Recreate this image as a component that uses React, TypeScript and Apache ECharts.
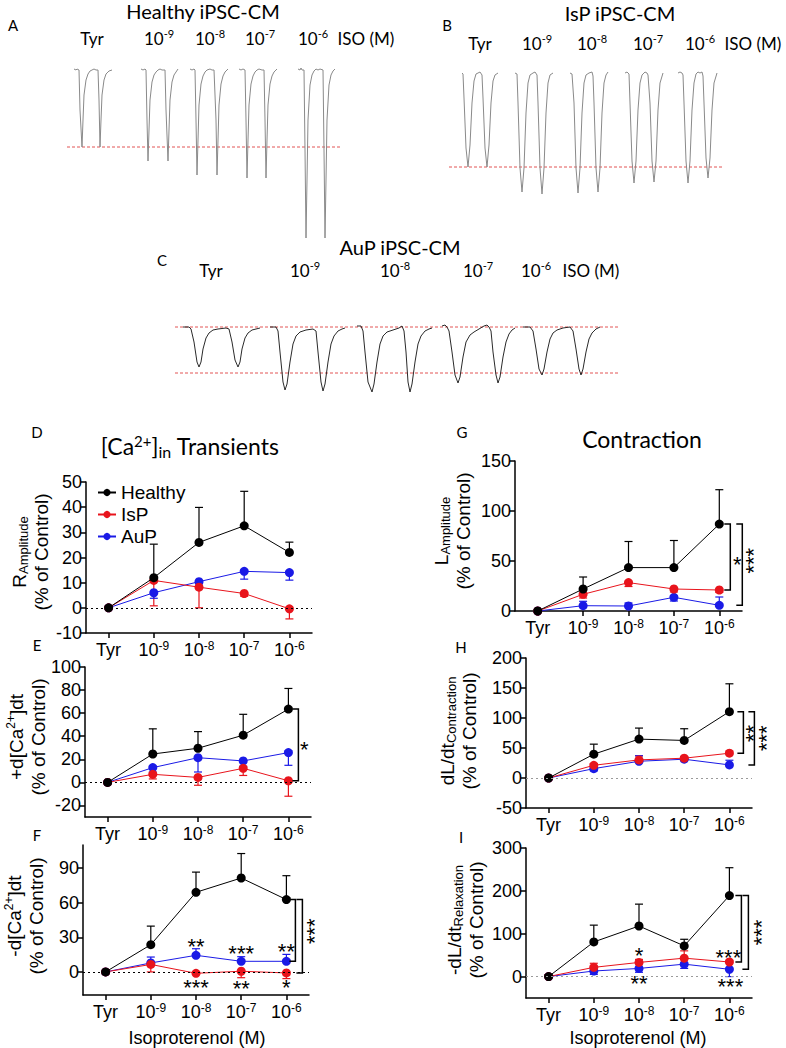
import React, { useEffect, useRef } from "react";
import * as echarts from "echarts";

// ---------------- DATA ----------------
const categories = ["Tyr", "10-9", "10-8", "10-7", "10-6"];
const groupNames = ["Healthy", "IsP", "AuP"];

// D: R Amplitude (% of control)
const ampHealthy = [0, 12, 26, 32.6, 22];
const ampHealthyErr = [null, 25.3, 39.9, 46.3, 26.1];
const ampIsP = [0, 10.9, 8.2, 5.7, -0.4];
const ampIsPErr = [null, 0.8, 0, 4.6, -4.4];
const ampAuP = [0, 6, 10.4, 14.5, 14];
const ampAuPErr = [null, 3.8, 9.6, 11.4, 11];

// E: +d[Ca2+]dt
const upHealthy = [0, 24.6, 29.6, 40.9, 63.5];
const upHealthyErr = [null, 46.4, 44, 59, 81.4];
const upIsP = [0, 7, 4.3, 12.2, 1.4];
const upIsPErr = [null, 3, -2.5, 6, -12];
const upAuP = [0, 12.8, 21.4, 18.6, 25.8];
const upAuPErr = [null, 9, 9, 14, 14.8];

// F: -d[Ca2+]dt
const downHealthy = [0, 23.6, 69, 81.4, 62.7];
const downHealthyErr = [null, 39.7, 86.5, 102.6, 83.4];
const downIsP = [0, 6.5, -1.2, 0.6, -0.9];
const downIsPErr = [null, 0, null, -5, -5.8];
const downAuP = [0, 7.8, 14.4, 9.2, 9.2];
const downAuPErr = [null, 12.9, 20.1, 13.2, 15.2];

// G: L Amplitude
const lampHealthy = [0, 22, 43.4, 43.4, 86.9];
const lampHealthyErr = [null, 34, 69.5, 70.5, 121.3];
const lampIsP = [0, 16.7, 28.4, 22, 21];
const lampIsPErr = [null, 13, 24.5, 19, 18.5];
const lampAuP = [0, 5.3, 5, 13.7, 5.7];
const lampAuPErr = [null, 9.7, 8, 10, 14];

// H: dL/dt Contraction
const contrHealthy = [0, 39.7, 64.8, 62.6, 110.6];
const contrHealthyErr = [null, 56.4, 83.2, 82.1, 157];
const contrIsP = [0, 21.2, 30.2, 33, 41.3];
const contrIsPErr = [null, 24, 37, 36, 45];
const contrAuP = [0, 15.6, 27.9, 31.3, 21.8];
const contrAuPErr = [null, 12, 37, 35, 29.6];

// I: -dL/dt Relaxation
const relaxHealthy = [0, 80.8, 118, 71.6, 189];
const relaxHealthyErr = [null, 120, 169, 87, 254];
const relaxIsP = [0, 21.5, 33, 43, 34];
const relaxIsPErr = [null, 31, 40, 60, 38];
const relaxAuP = [0, 13, 19, 29, 17];
const relaxAuPErr = [null, 5, 10, 19, 0];

// y tick labels
const ticksD = [-10, 0, 10, 20, 30, 40, 50];
const ticksE = [-20, 0, 20, 40, 60, 80, 100];
const ticksF = [0, 30, 60, 90];
const ticksG = [0, 50, 100, 150];
const ticksH = [-50, 0, 50, 100, 150, 200];
const ticksI = [0, 100, 200, 300];

// Example traces [time, signal]
const healthyTyr = [[74,1],[76,0],[77,1],[79,0],[80,-40],[82,-77],[83,-50],[84,-25],[86,-10],[88,-4],[90,-1],[92,0],[94,1],[96,0],[98,0],[99,-30],[100,-77],[101,-50],[102,-25],[104,-10],[106,-4],[109,-1],[112,0]];
const healthy9 = [[141,1],[143,0],[145,1],[146,0],[147,-50],[148,-91],[149,-60],[150,-30],[152,-12],[154,-5],[156,-2],[158,0],[160,1],[162,0],[165,0],[166,-40],[168,-91],[169,-60],[170,-30],[172,-12],[174,-5],[176,-2],[178,1]];
const healthy8 = [[190,1],[192,0],[194,1],[195,0],[196,-50],[197,-105],[198,-70],[199,-35],[201,-14],[203,-6],[205,-2],[207,0],[210,1],[212,0],[214,0],[216,-50],[217,-105],[218,-70],[219,-35],[221,-14],[223,-6],[225,-2],[228,1]];
const healthy7 = [[239,1],[241,0],[243,1],[245,0],[246,-50],[247,-108],[248,-70],[249,-35],[251,-14],[253,-6],[255,-2],[257,0],[259,1],[262,0],[264,0],[265,-50],[266,-108],[267,-70],[268,-35],[270,-14],[272,-6],[274,-2],[277,1]];
const healthy6 = [[298,1],[300,0],[301,2],[302,0],[304,0],[305,-80],[306,-168],[307,-110],[308,-50],[310,-15],[312,-5],[314,-1],[316,1],[318,0],[320,1],[323,0],[324,-80],[325,-168],[326,-110],[327,-50],[329,-15],[331,-5],[333,-1],[335,1]];

const ispTyr = [[462,0],[463,-1],[464,-25],[466,-75],[468,-94],[470,-72],[472,-30],[474,-8],[476,-1],[478,0],[480,1],[482,-2],[483,-25],[485,-75],[487,-94],[489,-72],[491,-30],[493,-8],[495,-2],[498,0]];
const isp9 = [[515,0],[517,-1],[518,-30],[520,-95],[522,-119],[524,-95],[526,-40],[528,-10],[530,-2],[533,0],[535,1],[537,-2],[538,-30],[540,-95],[542,-121],[544,-95],[546,-40],[548,-10],[550,-2],[553,0]];
const isp8 = [[570,0],[572,-1],[574,-30],[576,-95],[578,-120],[580,-95],[582,-40],[584,-10],[586,-2],[589,0],[592,1],[593,-3],[594,-30],[596,-95],[598,-119],[600,-95],[602,-40],[604,-10],[606,-2],[608,1]];
const isp7 = [[625,0],[627,1],[629,-1],[630,-30],[632,-88],[634,-110],[636,-88],[638,-37],[640,-10],[642,-2],[645,1],[647,0],[648,-2],[650,-30],[652,-88],[654,-109],[656,-88],[658,-37],[660,-10],[663,0]];
const isp6 = [[678,0],[680,1],[682,0],[683,-2],[684,-30],[686,-88],[688,-110],[690,-88],[692,-37],[694,-10],[696,-1],[698,1],[700,0],[702,1],[703,-3],[704,-30],[706,-85],[708,-105],[710,-85],[712,-37],[714,-10],[717,0]];

const aupTyr = [[183,0],[189,0],[191,-2],[194,-15],[197,-35],[199,-40],[201,-35],[203,-22],[206,-11],[209,-6],[213,-3],[218,-2],[226,-1],[229,-2],[232,-15],[235,-33],[238,-40],[240,-35],[242,-22],[245,-11],[248,-6],[252,-3],[256,-2],[260,-1]];
const aup9 = [[270,0],[276,0],[278,-4],[280,-25],[283,-55],[285,-63],[287,-57],[290,-35],[293,-17],[296,-9],[300,-5],[306,-3],[313,-2],[316,-4],[318,-25],[321,-55],[323,-64],[325,-57],[328,-35],[331,-17],[334,-9],[338,-4],[342,-2],[345,-1]];
const aup8 = [[357,1],[361,1],[363,-4],[365,-25],[368,-55],[372,-65],[374,-57],[377,-35],[380,-17],[383,-9],[387,-5],[393,-3],[399,-1],[402,1],[404,-4],[406,-25],[408,-55],[410,-65],[412,-57],[415,-35],[418,-17],[421,-9],[425,-4],[429,-2],[432,-1]];
const aup7 = [[442,1],[445,2],[447,0],[449,-4],[452,-25],[455,-48],[458,-56],[460,-50],[463,-30],[466,-15],[470,-8],[474,-5],[479,-2],[484,1],[487,2],[489,0],[491,-4],[493,-25],[496,-48],[498,-56],[500,-50],[503,-30],[506,-15],[509,-7],[512,-3],[515,-1]];
const aup6 = [[523,0],[530,0],[533,-4],[536,-22],[539,-42],[542,-48],[544,-42],[547,-25],[550,-12],[553,-6],[557,-3],[563,-1],[570,0],[573,-4],[576,-22],[579,-42],[581,-48],[583,-42],[586,-25],[589,-12],[592,-6],[596,-2],[600,0]];

// reference levels of traces
const healthyRef = [-77];
const ispRef = [-94];
const aupRef = [0, -46];

// ---------------- STYLE / LAYOUT ----------------
const FONT = "'Liberation Sans', Arial, sans-serif";
const CAL = "Lato, 'Open Sans', sans-serif";
const COLORS = ["#000000", "#e8141c", "#1a1ae6"];
const REF_RED = "#e25555";

const traceSpecs = [
  { left: 60, top: 60, width: 285, height: 185, xMin: 60, xMax: 345, yMin: -175, yMax: 10, color: "#8a8a8a", groups: [healthyTyr, healthy9, healthy8, healthy7, healthy6], refs: healthyRef, refX: [67, 340] },
  { left: 445, top: 68, width: 280, height: 135, xMin: 445, xMax: 725, yMin: -130, yMax: 5, color: "#8a8a8a", groups: [ispTyr, isp9, isp8, isp7, isp6], refs: ispRef, refX: [449, 722] },
  { left: 170, top: 322, width: 455, height: 75, xMin: 170, xMax: 625, yMin: -70, yMax: 5, color: "#2a2a2a", groups: [aupTyr, aup9, aup8, aup7, aup6], refs: aupRef, refX: [175, 618] },
];

const panels: any[] = [
  { left: 86, top: 482, width: 226, height: 151, min: -10, max: 50, ticks: ticksD, zero: "#000",
    values: [ampHealthy, ampIsP, ampAuP], errs: [ampHealthyErr, ampIsPErr, ampAuPErr], brackets: [], notes: [] },
  { left: 85, top: 667, width: 226, height: 150, min: -30, max: 100, ticks: ticksE, zero: "#000",
    values: [upHealthy, upIsP, upAuP], errs: [upHealthyErr, upIsPErr, upAuPErr],
    brackets: [{ other: 1, dx: 10, label: "*", lx: 16, ly: 0, rot: false }], notes: [] },
  { left: 83, top: 845, width: 226, height: 150, min: -20, max: 110, ticks: ticksF, zero: "#000",
    values: [downHealthy, downIsP, downAuP], errs: [downHealthyErr, downIsPErr, downAuPErr],
    brackets: [{ other: 2, dx: 9 }, { other: 1, dx: 16, label: "***", lx: 23, ly: -5, rot: true }],
    notes: [
      { s: 2, c: 2, dx: 0, dy: -14, text: "**" }, { s: 2, c: 3, dx: 0, dy: -13, text: "***" }, { s: 2, c: 4, dx: 0, dy: -15, text: "**" },
      { s: 1, c: 2, dx: 0, dy: 9, text: "***" }, { s: 1, c: 3, dx: 0, dy: 12, text: "**" }, { s: 1, c: 4, dx: 0, dy: 10, text: "*" },
    ] },
  { left: 515, top: 461, width: 227, height: 150, min: 0, max: 150, ticks: ticksG, zero: null,
    values: [lampHealthy, lampIsP, lampAuP], errs: [lampHealthyErr, lampIsPErr, lampAuPErr],
    brackets: [{ other: 1, dx: 11, label: "*", lx: 18, ly: 2, rot: false }, { other: 2, dx: 23, label: "***", lx: 29, ly: -4, rot: true }], notes: [] },
  { left: 526, top: 658, width: 226, height: 150, min: -50, max: 200, ticks: ticksH, zero: "#9a9a9a",
    values: [contrHealthy, contrIsP, contrAuP], errs: [contrHealthyErr, contrIsPErr, contrAuPErr],
    brackets: [{ other: 1, dx: 14, label: "**", lx: 19, ly: 1, rot: true }, { other: 2, dx: 25, label: "***", lx: 32, ly: 0, rot: true }], notes: [] },
  { left: 526, top: 848, width: 226, height: 150, min: -50, max: 300, ticks: ticksI, zero: "#9a9a9a",
    values: [relaxHealthy, relaxIsP, relaxAuP], errs: [relaxHealthyErr, relaxIsPErr, relaxAuPErr],
    brackets: [{ other: 1, dx: 12 }, { other: 2, dx: 19, label: "***", lx: 27, ly: 0, rot: true }],
    notes: [
      { s: 1, c: 2, dx: 0, dy: -12, text: "*" }, { s: 2, c: 2, dx: 0, dy: 10, text: "**" },
      { s: 1, c: 4, dx: -1, dy: -10, text: "***" }, { s: 2, c: 4, dx: 1, dy: 12, text: "***" },
    ] },
];

const STAR_SIZE = 22;
const STAR_SHIFT = 5;

function starText(x: number, y: number, text: string, rot: boolean) {
  return {
    type: "text",
    x: rot ? x + STAR_SHIFT : x,
    y: rot ? y : y + STAR_SHIFT,
    rotation: rot ? Math.PI / 2 : 0,
    style: { text, fontSize: STAR_SIZE, lineHeight: 12, fontFamily: FONT, fill: "#000", align: "center", verticalAlign: "middle" },
  };
}

function errRender(color: string) {
  return (params: any, api: any) => {
    const c = api.value(0);
    const p = api.coord([c, api.value(1)]);
    const q = api.coord([c, api.value(2)]);
    return {
      type: "group",
      children: [
        { type: "line", shape: { x1: p[0], y1: p[1], x2: q[0], y2: q[1] }, style: { stroke: color, lineWidth: 1.2 } },
        { type: "line", shape: { x1: q[0] - 4, y1: q[1], x2: q[0] + 4, y2: q[1] }, style: { stroke: color, lineWidth: 1.2 } },
      ],
    };
  };
}

function catFormatter(v: string) {
  return v.startsWith("10") ? `{n|10}{s|${v.slice(2)}}` : `{n|${v}}`;
}

const catRich = {
  n: { fontSize: 18, fontFamily: FONT, color: "#000", lineHeight: 20 },
  s: { fontSize: 12, fontFamily: FONT, color: "#000", lineHeight: 10, verticalAlign: "top" },
};

function buildOption() {
  const grid: any[] = [];
  const xAxis: any[] = [];
  const yAxis: any[] = [];
  const series: any[] = [];

  const chartSeriesFirst: any[] = [];
  const otherSeries: any[] = [];

  traceSpecs.forEach((t, gi) => {
    grid.push({ left: t.left, top: t.top, width: t.width, height: t.height });
    xAxis.push({ type: "value", gridIndex: gi, min: t.xMin, max: t.xMax, show: false });
    yAxis.push({ type: "value", gridIndex: gi, min: t.yMin, max: t.yMax, show: false });
    t.refs.forEach((r) => {
      otherSeries.push({
        type: "line", xAxisIndex: gi, yAxisIndex: gi, data: [[t.refX[0], r], [t.refX[1], r]],
        symbol: "none", silent: true, z: 1,
        lineStyle: { color: REF_RED, type: [3, 2], width: 1 },
      });
    });
    t.groups.forEach((g) => {
      otherSeries.push({
        type: "line", xAxisIndex: gi, yAxisIndex: gi, data: g, symbol: "none", silent: true,
        lineStyle: { color: t.color, width: 1 }, z: 2,
      });
    });
  });

  panels.forEach((p, k) => {
    const gi = 3 + k;
    grid.push({ left: p.left, top: p.top, width: p.width, height: p.height });
    xAxis.push({
      type: "category", gridIndex: gi, data: categories, boundaryGap: true,
      axisLine: { show: true, onZero: false, lineStyle: { color: "#000", width: 1.5 } },
      axisTick: { show: true, alignWithLabel: true, interval: 0, length: 5, lineStyle: { color: "#000", width: 1.5 } },
      axisLabel: { margin: 7, interval: 0, hideOverlap: false, formatter: catFormatter, rich: catRich, color: "#000" },
      splitLine: { show: false },
    });
    yAxis.push({
      type: "value", gridIndex: gi, min: p.min, max: p.max,
      axisLine: { show: true, lineStyle: { color: "#000", width: 1.5 } },
      axisTick: { show: true, length: 5, lineStyle: { color: "#000", width: 1.5 }, customValues: p.ticks },
      axisLabel: { margin: 4, fontSize: 18, fontFamily: FONT, color: "#000", customValues: p.ticks },
      splitLine: { show: false },
    });

    p.values.forEach((vals: number[], s: number) => {
      const errs = p.errs[s];
      const data: any[] = [];
      vals.forEach((v, i) => { if (errs[i] !== null && errs[i] !== undefined) data.push([i, v, errs[i]]); });
      otherSeries.push({
        type: "custom", xAxisIndex: gi, yAxisIndex: gi, data, renderItem: errRender(COLORS[s]), silent: true, z: 2,
        encode: { x: 0, y: 1 },
      });
    });

    p.values.forEach((vals: number[], s: number) => {
      const ser: any = {
        type: "line", name: groupNames[s], xAxisIndex: gi, yAxisIndex: gi, data: vals,
        symbol: "circle", symbolSize: 9, showSymbol: true,
        lineStyle: { color: COLORS[s], width: 1 }, itemStyle: { color: COLORS[s] }, z: 4 - s * 0.1,
      };
      if (s === 0 && p.zero) {
        ser.markLine = {
          silent: true, symbol: "none", label: { show: false },
          lineStyle: { color: p.zero, type: [2, 3], width: 1.2 },
          data: [{ yAxis: 0 }],
        };
      }
      if (k === 0) chartSeriesFirst.push(ser); else otherSeries.push(ser);
    });

    if (p.brackets.length) {
      const bData = p.brackets.map((b: any, bi: number) => [4, p.values[0][4], p.values[b.other][4], bi]);
      otherSeries.push({
        type: "custom", xAxisIndex: gi, yAxisIndex: gi, data: bData, silent: true, z: 5, encode: { x: 0, y: 1 },
        renderItem: (params: any, api: any) => {
          const b = p.brackets[params.dataIndex];
          const a = api.coord([api.value(0), api.value(1)]);
          const c = api.coord([api.value(0), api.value(2)]);
          const x = a[0] + b.dx;
          const children: any[] = [
            { type: "polyline", shape: { points: [[x - 6, a[1]], [x, a[1]], [x, c[1]], [x - 6, c[1]]] }, style: { stroke: "#000", lineWidth: 1.5, fill: null } },
          ];
          if (b.label) children.push(starText(a[0] + b.lx, (a[1] + c[1]) / 2 + b.ly, b.label, b.rot));
          return { type: "group", children };
        },
      });
    }

    if (p.notes.length) {
      const nData = p.notes.map((n: any, ni: number) => [n.c, p.values[n.s][n.c], ni]);
      otherSeries.push({
        type: "custom", xAxisIndex: gi, yAxisIndex: gi, data: nData, silent: true, z: 5, encode: { x: 0, y: 1 },
        renderItem: (params: any, api: any) => {
          const n = p.notes[params.dataIndex];
          const a = api.coord([api.value(0), api.value(1)]);
          return starText(a[0] + n.dx, a[1] + n.dy, n.text, false);
        },
      });
    }
  });

  series.push(...chartSeriesFirst, ...otherSeries);

  const supRich = (size: number, fam: string) => ({
    n: { fontSize: size, fontFamily: fam, color: "#000", lineHeight: size + 3 },
    s: { fontSize: Math.round(size * 0.65), fontFamily: fam, color: "#000", lineHeight: 10, verticalAlign: "top" },
    b: { fontSize: Math.round(size * 0.68), fontFamily: fam, color: "#000", lineHeight: 10, verticalAlign: "bottom" },
  });

  const T = (x: number, y: number, text: string, size: number, fam: string, rot = 0) => ({
    type: "text", x, y, rotation: rot, silent: true,
    style: { text, fontSize: size, fontFamily: fam, fill: "#000", align: "center", verticalAlign: "middle", rich: supRich(size, fam) },
  });

  const isoLabels = (ys: number, xs: number[], size: number) => [
    T(xs[0], ys, "{n|Tyr}", size, CAL),
    T(xs[1], ys, "{n|10}{s|-9}", size, CAL),
    T(xs[2], ys, "{n|10}{s|-8}", size, CAL),
    T(xs[3], ys, "{n|10}{s|-7}", size, CAL),
    T(xs[4], ys, "{n|10}{s|-6}", size, CAL),
    T(xs[5], ys, "{n|ISO (M)}", size, CAL),
  ];

  const V = Math.PI / 2;
  const graphic = [
    T(13, 25, "{n|A}", 15, CAL), T(447, 25, "{n|B}", 15, CAL), T(162, 260, "{n|C}", 15, CAL),
    T(203, 11, "{n|Healthy iPSC-CM}", 20, CAL),
    T(620, 13, "{n|IsP iPSC-CM}", 20, CAL),
    T(400, 247, "{n|AuP iPSC-CM}", 20, CAL),
    ...isoLabels(38, [92, 159, 210, 260, 313, 366], 17),
    ...isoLabels(43, [480, 537, 592, 648, 700, 753], 17),
    ...isoLabels(270, [211, 305, 395, 478, 536, 591], 17),
    T(37, 432, "{n|D}", 15, CAL), T(37, 645, "{n|E}", 15, CAL), T(37, 835, "{n|F}", 15, CAL),
    T(462, 432, "{n|G}", 15, CAL), T(461, 647, "{n|H}", 15, CAL), T(461, 837, "{n|I}", 15, CAL),
    T(190, 446, "{n|[Ca}{s|2+}{n|]}{b|in}{n| Transients}", 23, CAL),
    T(642, 439, "{n|Contraction}", 23, CAL),
    T(30, 552, "{n|R}{b|Amplitude}\n{n|(% of Control)}", 19, FONT, V),
    T(27, 737, "{n|+d[Ca}{s|2+}{n|]dt}\n{n|(% of Control)}", 19, FONT, V),
    T(25, 916, "{n|-d[Ca}{s|2+}{n|]dt}\n{n|(% of Control)}", 19, FONT, V),
    T(452, 531, "{n|L}{b|Amplitude}\n{n|(% of Control)}", 19, FONT, V),
    T(458, 731, "{n|dL/dt}{b|Contraction}\n{n|(% of Control)}", 19, FONT, V),
    T(465, 920, "{n|-dL/dt}{b|Relaxation}\n{n|(% of Control)}", 19, FONT, V),
    T(197, 1038, "{n|Isoproterenol (M)}", 18, FONT),
    T(638, 1038, "{n|Isoproterenol (M)}", 18, FONT),
  ];

  return {
    animation: false,
    backgroundColor: "#ffffff",
    grid, xAxis, yAxis, series, graphic,
    legend: {
      show: true, data: groupNames, orient: "vertical", left: 92, top: 478,
      itemWidth: 18, itemHeight: 9, itemGap: 3, selectedMode: false,
      textStyle: { fontFamily: FONT, fontSize: 19, color: "#000" },
    },
  };
}

export default function App() {
  const ref = useRef<HTMLDivElement>(null);
  useEffect(() => {
    const chart = echarts.init(ref.current!, null, { renderer: "svg" });
    chart.setOption(buildOption() as any);
    return () => chart.dispose();
  }, []);
  return (
    <div
      ref={ref}
      style={{ position: "absolute", left: 0, top: 0, width: 786, height: 1048, background: "#fff" }}
    />
  );
}
